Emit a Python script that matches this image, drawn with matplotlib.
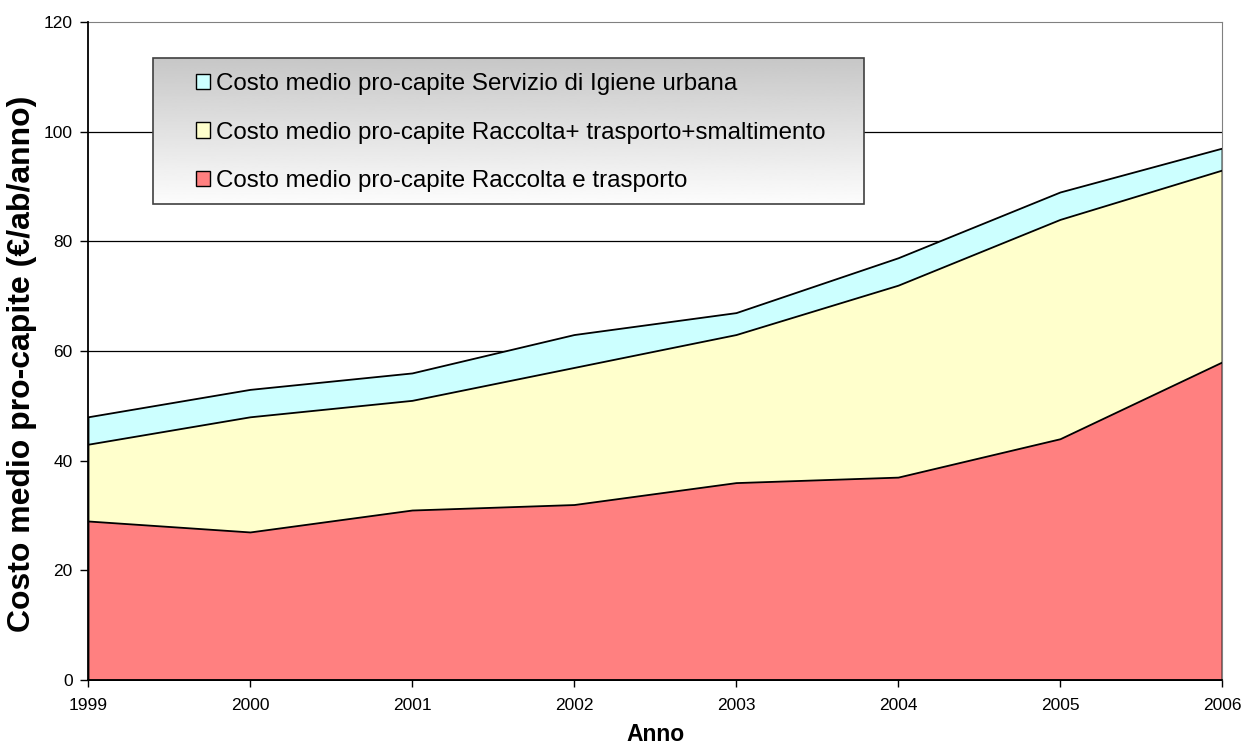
import numpy as np
from matplotlib import pyplot as plt
from matplotlib.patches import Rectangle, Patch

years = [1999, 2000, 2001, 2002, 2003, 2004, 2005, 2006]
igiene_urbana = [48, 53, 56, 63, 67, 77, 89, 97]
racc_trasp_smalt = [43, 48, 51, 57, 63, 72, 84, 93]
racc_trasp = [29, 27, 31, 32, 36, 37, 44, 58]

labels = [
    'Costo medio pro-capite Servizio di Igiene urbana',
    'Costo medio pro-capite Raccolta+ trasporto+smaltimento',
    'Costo medio pro-capite Raccolta e trasporto',
]
colors = ['#CCFFFF', '#FFFFCC', '#FF8080']

plt.rcParams['font.family'] = ['Liberation Sans', 'DejaVu Sans']

fig = plt.figure(figsize=(12.42, 7.46), dpi=100)
ax = fig.add_axes([88 / 1242, 66 / 746, 1134 / 1242, 658 / 746])

for vals, c in zip([igiene_urbana, racc_trasp_smalt, racc_trasp], colors):
    ax.fill_between(years, 0, vals, facecolor=c, edgecolor='black', lw=1.3, zorder=2)

ax.set_xlim(years[0], years[-1])
ax.set_ylim(0, 120)
ax.set_xticks(years)
ax.set_yticks(np.arange(0, 121, 20))
for y in np.arange(20, 120, 20):
    ax.axhline(y, color='black', lw=0.9, zorder=1)

ax.spines['top'].set_color('#808080')
ax.spines['right'].set_color('#808080')
ax.spines['left'].set_linewidth(1.3)
ax.spines['bottom'].set_linewidth(1.3)
ax.spines['left'].set_zorder(3)
ax.spines['bottom'].set_zorder(3)
ax.tick_params(axis='x', length=5, width=1, pad=8, labelsize=12.5)
ax.tick_params(axis='y', length=6, width=1, pad=5, labelsize=12.5)

ax.set_xlabel('Anno', fontsize=16.5, fontweight='bold')
ax.xaxis.set_label_coords(0.5, -0.066)
ax.set_ylabel('Costo medio pro-capite (€/ab/anno)', fontsize=23, fontweight='bold')
ax.yaxis.set_label_coords(-0.045, 0.48)

# legend box with vertical grey->white gradient
bx0, bx1 = 65 / 1134, 776 / 1134
by0, by1 = 476 / 658, 622 / 658
grad = np.linspace(0.78, 0.99, 256).reshape(-1, 1)
ax.imshow(grad, cmap='gray', vmin=0, vmax=1, aspect='auto',
          extent=[bx0, bx1, by0, by1], origin='upper',
          transform=ax.transAxes, zorder=4)
ax.add_patch(Rectangle((bx0, by0), bx1 - bx0, by1 - by0, transform=ax.transAxes,
                       fill=False, edgecolor='#404040', lw=1.2, zorder=5))
handles = [Patch(facecolor=c, edgecolor='black', lw=1) for c in colors]
leg = ax.legend(handles, labels, loc='center left',
                bbox_to_anchor=(108 / 1134, 0.832), borderaxespad=0,
                frameon=False, fontsize=17.4, handlelength=0.58, handleheight=0.58,
                handletextpad=0.25, labelspacing=1.1, borderpad=0)
leg.set_zorder(6)

fig.savefig('out.png', dpi=100)
